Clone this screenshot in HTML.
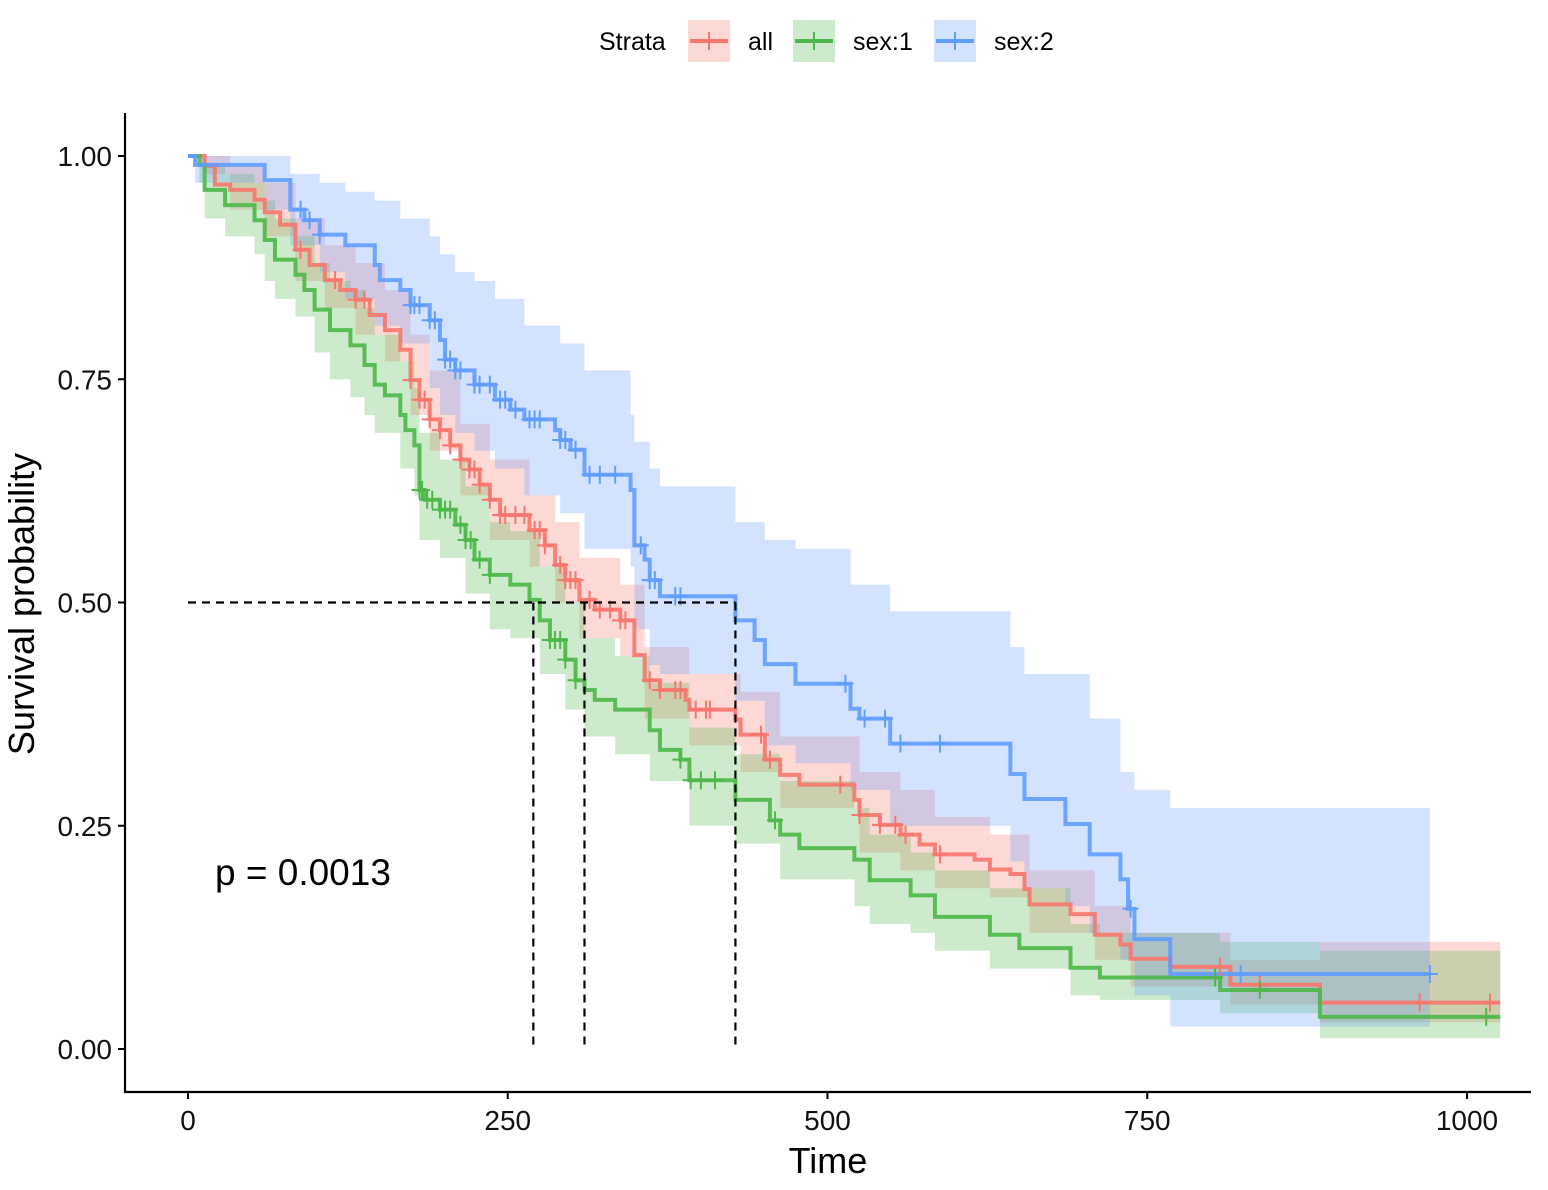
<!DOCTYPE html>
<html><head><meta charset="utf-8"><style>
html,body{margin:0;padding:0;background:#fff;}
svg{display:block;font-family:"Liberation Sans",Arial,sans-serif;}
</style></head><body>
<svg id="chart" width="1548" height="1190" viewBox="0 0 1548 1190" xmlns="http://www.w3.org/2000/svg">
<g id="legend">
  <text x="599" y="50" font-size="25">Strata</text>
  <g>
    <rect x="688" y="20" width="42" height="42" fill="#F8766D" fill-opacity="0.28"/>
    <line x1="690" y1="41" x2="728" y2="41" stroke="#F8766D" stroke-width="4"/>
    <line x1="709" y1="32" x2="709" y2="50" stroke="#F8766D" stroke-width="2"/>
    <text x="748" y="50" font-size="25">all</text>
  </g>
  <g>
    <rect x="793" y="20" width="42" height="42" fill="#4DB849" fill-opacity="0.28"/>
    <line x1="795" y1="41" x2="833" y2="41" stroke="#4DB849" stroke-width="4"/>
    <line x1="814" y1="32" x2="814" y2="50" stroke="#4DB849" stroke-width="2"/>
    <text x="853" y="50" font-size="25">sex:1</text>
  </g>
  <g>
    <rect x="934" y="20" width="42" height="42" fill="#619CFF" fill-opacity="0.28"/>
    <line x1="936" y1="41" x2="974" y2="41" stroke="#619CFF" stroke-width="4"/>
    <line x1="955" y1="32" x2="955" y2="50" stroke="#619CFF" stroke-width="2"/>
    <text x="994" y="50" font-size="25">sex:2</text>
  </g>
</g>
<g id="bands"></g>
<g id="curves"></g>
<g id="censors"></g>
<g id="medians"></g>
<g id="axes"></g>
<text x="215" y="885" font-size="37">p = 0.0013</text>
<text x="828" y="1173" font-size="36" text-anchor="middle">Time</text>
<text transform="translate(34,604) rotate(-90)" font-size="36" text-anchor="middle">Survival probability</text>
</svg>
<script>
// ---- data ----
const xTicks = [0, 250, 500, 750, 1000];
const yTicks = [0, 0.25, 0.5, 0.75, 1.0];
const yTickLabels = ["0.00", "0.25", "0.50", "0.75", "1.00"];
const strata = ["all", "sex:1", "sex:2"];

const allTimes = [13,21,33,52,60,72,84,95,107,119,131,142,154,166,174,181,189,197,205,213,220,228,236,244,267,279,287,295,306,318,338,349,357,369,389,392,428,432,451,463,478,521,525,541,557,572,584,615,627,643,654,658,690,709,729,737,768,815,885];
const allSurv  = [0.989,0.968,0.962,0.951,0.937,0.923,0.895,0.878,0.861,0.850,0.839,0.822,0.805,0.783,0.749,0.727,0.705,0.693,0.676,0.660,0.649,0.632,0.615,0.598,0.581,0.564,0.542,0.525,0.503,0.492,0.480,0.441,0.413,0.402,0.391,0.380,0.369,0.352,0.324,0.307,0.296,0.279,0.262,0.251,0.240,0.229,0.218,0.212,0.201,0.196,0.179,0.162,0.151,0.128,0.117,0.101,0.092,0.072,0.052];
const allEnd = 1026;
const allBandT  = [0,13,33,60,84,107,131,154,174,189,213,236,267,287,306,338,357,392,432,463,525,557,584,627,658,709,737,815,885];
const allLower  = [1,0.98,0.94,0.91,0.86,0.83,0.80,0.77,0.71,0.67,0.62,0.57,0.54,0.50,0.46,0.44,0.37,0.34,0.31,0.27,0.22,0.20,0.18,0.17,0.13,0.10,0.07,0.05,0.03];
const allUpper  = [1,1,0.99,0.97,0.93,0.90,0.88,0.85,0.80,0.76,0.70,0.66,0.62,0.59,0.55,0.52,0.45,0.42,0.40,0.35,0.31,0.29,0.26,0.24,0.20,0.16,0.13,0.10,0.12];
const allCensor = [88,115,131,138,174,181,185,189,197,205,213,220,224,228,236,244,248,256,263,271,275,279,291,295,299,303,314,322,330,338,342,361,369,381,385,397,405,408,448,455,510,525,541,553,561,588,807,838,963,1018];

const s1Times = [9,13,29,52,60,68,84,91,99,111,127,138,146,154,166,170,177,181,185,197,209,217,224,236,252,267,275,283,295,303,310,318,334,361,369,385,392,428,455,463,478,521,533,565,584,627,650,690,713,807,885];
const s1Surv  = [0.990,0.962,0.945,0.928,0.906,0.884,0.867,0.850,0.828,0.805,0.788,0.766,0.744,0.732,0.710,0.693,0.676,0.626,0.615,0.604,0.587,0.570,0.548,0.531,0.520,0.503,0.480,0.458,0.436,0.413,0.402,0.391,0.380,0.357,0.335,0.324,0.301,0.279,0.256,0.240,0.225,0.212,0.189,0.172,0.148,0.128,0.113,0.091,0.080,0.066,0.036];
const s1End = 1026;
const s1BandT = [0,9,13,29,52,60,68,84,99,111,127,138,146,166,177,181,197,217,236,252,275,295,310,334,361,392,428,463,521,533,565,584,627,690,713,807,885];
const s1Lower = [1,0.97,0.93,0.91,0.89,0.86,0.84,0.82,0.78,0.75,0.73,0.71,0.69,0.65,0.62,0.57,0.55,0.51,0.47,0.46,0.42,0.38,0.35,0.33,0.30,0.25,0.23,0.19,0.16,0.14,0.13,0.11,0.09,0.06,0.055,0.04,0.012];
const s1Upper = [1,1,0.99,0.98,0.97,0.95,0.93,0.91,0.88,0.86,0.85,0.83,0.80,0.77,0.74,0.69,0.66,0.63,0.59,0.58,0.54,0.50,0.46,0.44,0.41,0.36,0.33,0.30,0.27,0.24,0.22,0.20,0.18,0.14,0.13,0.12,0.11];
const s1Censor = [181,183,187,191,197,201,205,213,217,221,228,236,283,287,291,295,303,385,393,401,412,459,803,838,1015];

const s2Times = [5.5,60,80,91,103,123,146,150,166,174,189,197,201,209,224,240,252,263,287,291,299,310,346,349,357,361,369,428,443,451,475,518,525,549,643,654,686,705,729,735,740,768];
const s2Surv  = [0.990,0.973,0.940,0.928,0.912,0.900,0.878,0.861,0.850,0.833,0.816,0.794,0.772,0.760,0.744,0.727,0.716,0.705,0.693,0.682,0.671,0.643,0.626,0.564,0.548,0.525,0.507,0.480,0.458,0.431,0.409,0.381,0.370,0.342,0.308,0.280,0.252,0.218,0.190,0.157,0.123,0.084];
const s2End = 971;
const s2BandT = [0,5.5,60,80,103,123,146,166,189,197,209,224,240,263,291,310,346,349,361,369,428,451,475,518,549,643,654,686,705,729,740,768];
const s2Lower = [1,0.97,0.94,0.90,0.87,0.84,0.81,0.79,0.74,0.71,0.69,0.67,0.65,0.62,0.60,0.56,0.54,0.47,0.43,0.42,0.39,0.34,0.32,0.29,0.25,0.21,0.18,0.16,0.13,0.10,0.06,0.025];
const s2Upper = [1,1,1,0.98,0.97,0.96,0.95,0.93,0.91,0.89,0.87,0.86,0.84,0.81,0.79,0.76,0.71,0.68,0.65,0.63,0.59,0.57,0.56,0.52,0.49,0.45,0.42,0.42,0.37,0.31,0.29,0.27];
const s2Censor = [88,95,103,174,177,181,189,193,201,205,209,213,224,228,236,244,248,256,267,271,275,291,295,303,314,322,334,354,361,365,381,385,514,529,545,557,588,737,823,971];

const medianTimes = [270, 310, 428];

// ---- scales ----
const X0 = 188, XK = 1.279, Y0 = 1049, YK = 893;
function xs(t){ return X0 + t * XK; }
function ys(s){ return Y0 - s * YK; }
const NS = "http://www.w3.org/2000/svg";
function mk(tag, attrs, parent){ const e = document.createElementNS(NS, tag); for (const k in attrs) e.setAttribute(k, attrs[k]); parent.appendChild(e); return e; }

function stepPath(times, surv, end){
  let d = "M" + xs(0) + " " + ys(1);
  for (let i = 0; i < times.length; i++){ d += " H" + xs(times[i]) + " V" + ys(surv[i]); }
  d += " H" + xs(end);
  return d;
}
function bandPath(bt, lo, hi, end){
  let d = "M" + xs(bt[0]) + " " + ys(hi[0]);
  for (let i = 1; i < bt.length; i++){ d += " H" + xs(bt[i]) + " V" + ys(hi[i]); }
  d += " H" + xs(end) + " V" + ys(lo[lo.length-1]);
  for (let i = bt.length - 1; i >= 1; i--){ d += " H" + xs(bt[i]) + " V" + ys(lo[i-1]); }
  d += " H" + xs(bt[0]) + " Z";
  return d;
}
function survAt(times, surv, t){ let s = 1; for (let i = 0; i < times.length; i++){ if (times[i] <= t) s = surv[i]; } return s; }

const series = [
  {key:"all", col:"#F8766D", t:allTimes, s:allSurv, e:allEnd, bt:allBandT, lo:allLower, hi:allUpper, c:allCensor},
  {key:"sex1", col:"#4DB849", t:s1Times, s:s1Surv, e:s1End, bt:s1BandT, lo:s1Lower, hi:s1Upper, c:s1Censor},
  {key:"sex2", col:"#619CFF", t:s2Times, s:s2Surv, e:s2End, bt:s2BandT, lo:s2Lower, hi:s2Upper, c:s2Censor}
];
const gB = document.getElementById("bands"), gC = document.getElementById("curves"), gM = document.getElementById("censors");
series.forEach(S => {
  const b = mk("path", {d: bandPath(S.bt, S.lo, S.hi, S.e), fill: S.col, "fill-opacity": 0.28, stroke: "none"}, gB);
  
  
});
series.forEach(S => {
  const p = mk("path", {d: stepPath(S.t, S.s, S.e), fill: "none", stroke: S.col, "stroke-width": 4, "stroke-opacity": 0.9}, gC);
  
  
  const g = mk("g", {stroke: S.col, "stroke-width": 2}, gM);
  
  
  S.c.forEach(t => {
    const x = xs(t), y = ys(survAt(S.t, S.s, t));
    mk("path", {d: "M" + (x-8) + " " + y + " H" + (x+8) + " M" + x + " " + (y-9) + " V" + (y+9)}, g);
  });
});
// median lines
const gMed = document.getElementById("medians");
const hl = mk("line", {x1: xs(0), x2: xs(Math.max(...medianTimes)), y1: ys(0.5), y2: ys(0.5), stroke: "#000", "stroke-width": 2.2, "stroke-dasharray": "8 6"}, gMed);


medianTimes.forEach(t => {
  const vl = mk("line", {x1: xs(t), x2: xs(t), y1: ys(0.5), y2: ys(0), stroke: "#000", "stroke-width": 2.2, "stroke-dasharray": "8 6"}, gMed);
  
  
});
// axes
const gA = document.getElementById("axes");
const ya = mk("line", {x1: 125, x2: 125, y1: 113, y2: 1093, stroke: "#000", "stroke-width": 2.2}, gA);


const xa = mk("line", {x1: 124, x2: 1531, y1: 1092, y2: 1092, stroke: "#000", "stroke-width": 2.2}, gA);


yTicks.forEach((v, i) => {
  mk("line", {x1: 118, x2: 125, y1: ys(v), y2: ys(v), stroke: "#000", "stroke-width": 2}, gA);
  const tx = mk("text", {x: 112, y: ys(v) + 10, "font-size": 28, "text-anchor": "end", fill: "#111"}, gA);
  tx.textContent = yTickLabels[i];
  
  
});
xTicks.forEach(v => {
  mk("line", {x1: xs(v), x2: xs(v), y1: 1092, y2: 1099, stroke: "#000", "stroke-width": 2}, gA);
  const tx = mk("text", {x: xs(v), y: 1130, "font-size": 28, "text-anchor": "middle", fill: "#111"}, gA);
  tx.textContent = String(v);
  
  
});
</script>
</body></html>
